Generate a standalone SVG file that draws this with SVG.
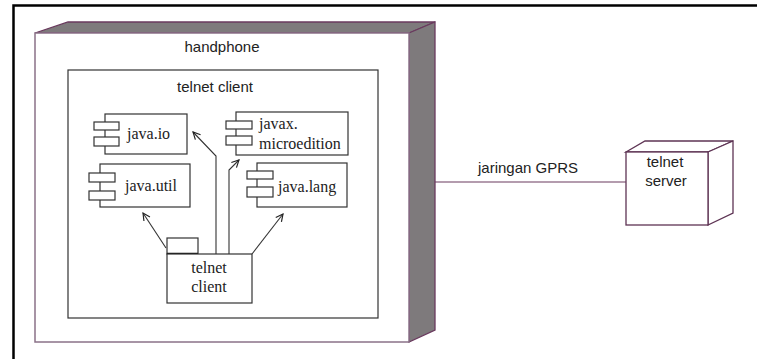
<svg xmlns="http://www.w3.org/2000/svg" width="758" height="359" viewBox="0 0 758 359">
<defs>
<style>
.frame{stroke:#000;stroke-width:2.5;fill:none}
.nodeFront{fill:#fff;stroke:#8a7288;stroke-width:1.5}
.nodeShade{fill:#7e7a7c;stroke:#6a3a5e;stroke-width:1.3}
.srvFace{fill:#fff;stroke:#5e3454;stroke-width:1.3}
.box{fill:#fff;stroke:#333;stroke-width:1.2}
.sans{font-family:"Liberation Sans",Arial,sans-serif;font-size:15px;fill:#222}
.serif{font-family:"Liberation Serif","Times New Roman",serif;font-size:16px;fill:#222}
.conn{fill:none;stroke:#333;stroke-width:1.1}
.link{fill:none;stroke:#6a3a5e;stroke-width:1.2}
</style>
<marker id="open" viewBox="0 0 10 10" refX="9" refY="5" markerWidth="9" markerHeight="9" markerUnits="userSpaceOnUse" orient="auto">
<path d="M1,1 L9,5 L1,9" fill="none" stroke="#222" stroke-width="1.3"/>
</marker>
</defs>
<rect width="758" height="359" fill="#fff"/>
<path class="frame" d="M13.5,359 V5.5 H757"/>

<g id="handphone">
<polygon class="nodeShade" points="35,33 68,22 435,22 409,33"/>
<polygon class="nodeShade" points="409,33 435,22 435,330 409,342"/>
<rect class="nodeFront" x="35" y="33" width="374" height="309"/>
<text class="sans" x="222" y="52" text-anchor="middle">handphone</text>
</g>

<g id="telnet-client-pkg">
<rect class="box" x="68" y="70" width="310" height="248"/>
<text class="sans" x="215" y="92" text-anchor="middle">telnet client</text>
</g>

<g id="java-io">
<rect class="box" x="105" y="114" width="82" height="40"/>
<rect class="box" x="94" y="122" width="25" height="8"/>
<rect class="box" x="94" y="137" width="25" height="9"/>
<text class="serif" x="127" y="139">java.io</text>
</g>

<g id="javax-microedition">
<rect class="box" x="236" y="112" width="112" height="43"/>
<rect class="box" x="226" y="121" width="26" height="8"/>
<rect class="box" x="226" y="136" width="26" height="9"/>
<text class="serif" x="259" y="129">javax.</text>
<text class="serif" x="259" y="149">microedition</text>
</g>

<g id="java-util">
<rect class="box" x="100" y="164" width="90" height="43"/>
<rect class="box" x="89" y="173" width="26" height="9"/>
<rect class="box" x="89" y="191" width="26" height="9"/>
<text class="serif" x="125" y="191">java.util</text>
</g>

<g id="java-lang">
<rect class="box" x="257" y="163" width="90" height="44"/>
<rect class="box" x="247" y="171" width="26" height="8"/>
<rect class="box" x="247" y="187" width="26" height="10"/>
<text class="serif" x="278" y="192">java.lang</text>
</g>

<g id="telnet-client">
<rect class="box" x="167" y="238" width="31" height="16"/>
<line x1="167" y1="254" x2="198" y2="254" stroke="#111" stroke-width="2.5"/>
<rect class="box" x="167" y="254" width="85" height="49"/>
<text class="serif" x="209" y="273" text-anchor="middle">telnet</text>
<text class="serif" x="209" y="292" text-anchor="middle">client</text>
</g>

<g id="telnet-server">
<polygon class="srvFace" points="626,152 645,141 733,141 708,152"/>
<polygon class="srvFace" points="708,152 733,141 733,213 708,225"/>
<rect class="srvFace" x="626" y="152" width="82" height="73"/>
<text class="sans" x="665" y="167" text-anchor="middle">telnet</text>
<text class="sans" x="666" y="186" text-anchor="middle">server</text>
</g>

<g id="connectors">
<polyline class="conn" points="216,254 216,156 193,132" marker-end="url(#open)"/>
<polyline class="conn" points="229,254 229,170 239,160" marker-end="url(#open)"/>
<line class="conn" x1="166" y1="248" x2="143" y2="213" marker-end="url(#open)"/>
<line class="conn" x1="252" y1="254" x2="283" y2="214" marker-end="url(#open)"/>
<line class="link" x1="435" y1="182" x2="626" y2="182"/>
<text class="sans" x="528" y="173" text-anchor="middle">jaringan GPRS</text>
</g>
</svg>
